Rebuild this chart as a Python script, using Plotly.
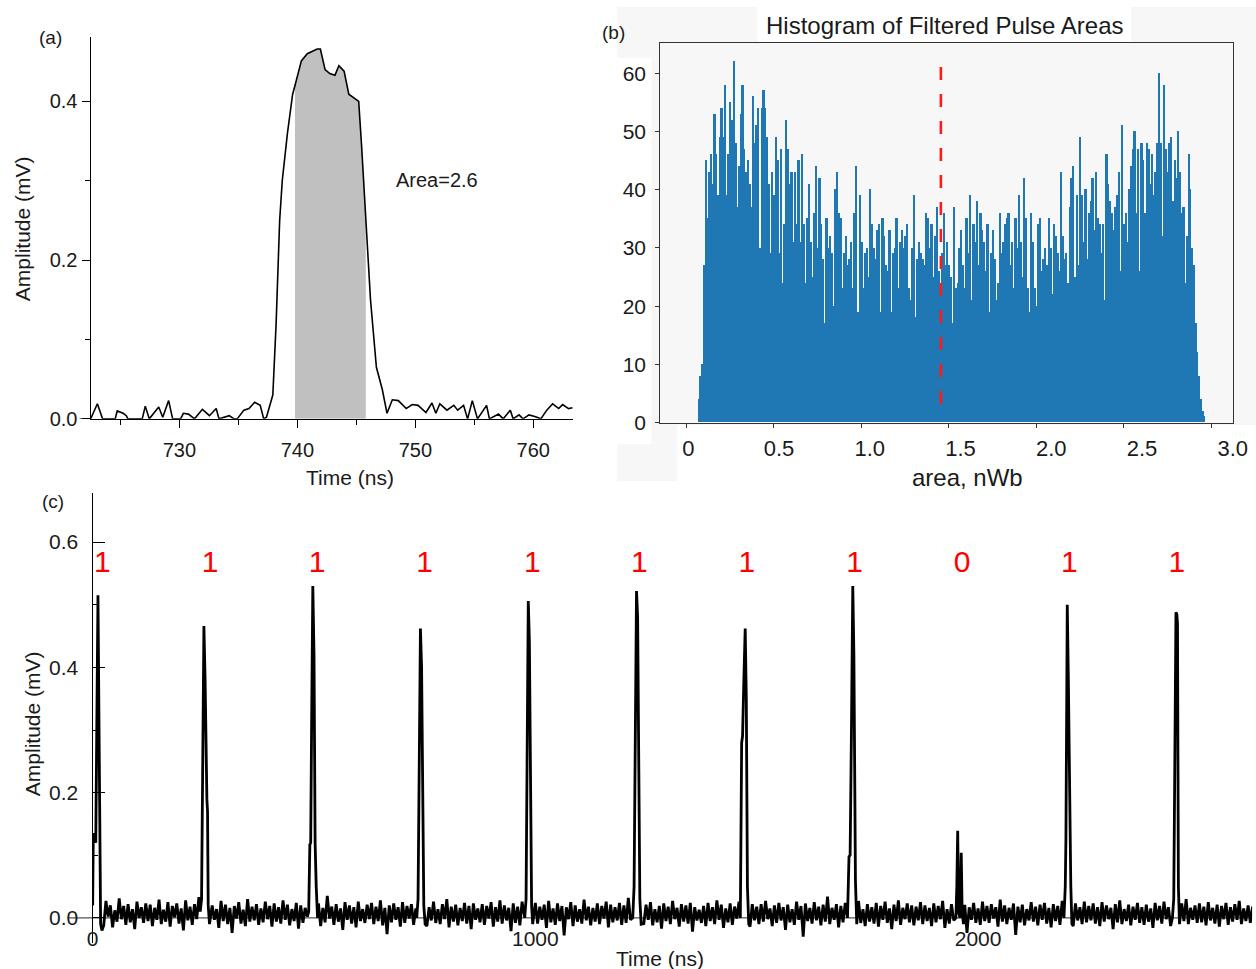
import plotly.graph_objects as go

W, H = 1256, 969          # reference pixel frame used for placement (paper fractions)
FIG_W, FIG_H = 1273, 982  # page size (capture is downscaled to 1256x969)
X_SHIFT, X_SCALE = 5.3, 0.9973  # compensation measured from a previous capture
FONT = "Liberation Sans, Arial, sans-serif"

# ---------------- (a) single pulse ----------------
a_time = [722.48, 723.05, 723.49, 724.56, 724.73, 725.23, 725.5, 725.64, 726.85, 727.11,
          727.45, 728.25, 728.59, 729.09, 729.43, 730.1, 730.34, 730.77, 731.28, 731.95,
          732.55, 733.12, 733.36, 734.23, 734.63, 734.9, 735.47, 735.9, 736.38, 736.85,
          737.15, 737.38, 737.92, 738.2, 738.5, 738.72, 739.16, 739.6, 739.8, 740.34,
          740.84, 741.34, 741.68, 741.95, 742.35, 742.75, 743.19, 743.52, 743.96, 744.36,
          744.77, 745.2, 745.44, 745.8, 746.2, 746.7, 747.2, 747.6, 748.05, 748.56,
          749.23, 749.73, 750.23, 750.9, 751.41, 751.74, 752.08, 752.68, 753.26, 753.59,
          754.09, 754.43, 754.83, 755.27, 756.04, 756.28, 757.05, 757.45, 758.05, 758.29,
          758.79, 759.13, 759.63, 760.13, 760.64, 761.14, 761.64, 762.15, 762.48, 762.99,
          763.32]
a_amp = [0, 0.019, 0, 0, 0.01, 0.007, 0.004, 0, 0, 0.016,
         0, 0.015, 0.002, 0.023, 0, 0, 0.007, 0.006, 0, 0.012,
         0.004, 0.013, 0, 0.004, 0, 0, 0.011, 0.013, 0.021, 0.017,
         0, 0.002, 0.03, 0.12, 0.25, 0.30, 0.36, 0.409, 0.42, 0.451,
         0.46, 0.464, 0.466, 0.466, 0.44, 0.435, 0.433, 0.445, 0.438, 0.409,
         0.405, 0.40, 0.345, 0.25, 0.15, 0.065, 0.037, 0.007, 0.024, 0.023,
         0.013, 0.018, 0.017, 0.008, 0.02, 0.007, 0.019, 0.011, 0.017, 0.011,
         0.017, 0, 0.023, 0, 0.017, 0, 0.006, 0, 0.011, 0,
         0.005, 0, 0.005, 0.003, 0, 0.011, 0.019, 0.013, 0.018, 0.013,
         0.014]
area_window = [739.8, 745.8]
area_text = "Area=2.6"

# ---------------- (b) histogram ----------------
hist_start = 0.07
hist_bin_width = 0.01
hist_counts = [
    4, 8, 10, 27, 45, 35, 43, 46, 41, 53,
    46, 39, 49, 54, 49, 58, 39, 46, 55, 52,
    62, 48, 37, 44, 53, 58, 47, 43, 45, 41,
    37, 56, 48, 51, 54, 30, 54, 57, 54, 49,
    41, 29, 43, 39, 49, 45, 29, 47, 24, 34,
    52, 47, 41, 43, 31, 43, 34, 45, 31, 46,
    34, 24, 35, 41, 31, 25, 36, 44, 30, 42,
    34, 28, 17, 35, 30, 32, 29, 20, 40, 43,
    36, 35, 23, 29, 32, 27, 28, 31, 23, 36,
    44, 19, 39, 31, 23, 29, 30, 25, 40, 34,
    30, 28, 33, 34, 19, 35, 32, 27, 26, 33,
    19, 29, 30, 35, 23, 31, 33, 30, 32, 34,
    23, 21, 30, 39, 18, 28, 31, 29, 28, 27,
    36, 35, 30, 34, 25, 32, 37, 26, 23, 29,
    36, 27, 31, 27, 25, 17, 37, 23, 24, 30,
    33, 27, 23, 35, 29, 39, 21, 34, 31, 38,
    27, 36, 33, 31, 26, 34, 19, 29, 33, 28,
    21, 24, 36, 29, 31, 34, 35, 36, 27, 31,
    23, 35, 30, 39, 31, 25, 42, 35, 23, 19,
    36, 31, 23, 20, 34, 35, 26, 28, 30, 27,
    35, 30, 22, 34, 32, 29, 26, 43, 32, 28,
    29, 24, 37, 42, 44, 25, 39, 27, 49, 39,
    31, 40, 28, 36, 38, 42, 33, 43, 35, 34,
    29, 34, 21, 46, 41, 38, 36, 33, 37, 39,
    43, 26, 51, 34, 36, 31, 40, 44, 47, 50,
    36, 47, 26, 48, 45, 36, 48, 47, 41, 46,
    39, 43, 48, 60, 48, 32, 58, 47, 43, 48,
    49, 38, 45, 42, 50, 43, 36, 37, 24, 32,
    46, 40, 30, 27, 17, 12, 8, 4, 2, 1,
]
threshold = 1.455
threshold_span = [61.1, 1.8]
hist_tick_vals = [0, 0.5, 1.0, 1.5, 2.0, 2.5, 3.0]
hist_tick_text = ["0", "0.5", "1.0", "1.5", "2.0", "2.5", "3.0"]

# ---------------- (c) pulse train ----------------
noise_step_ns = 5
noise_milli = [
    18, -9, 24, -4, 15, -12, 27, 2, 20, -15, 12, -6, 31, -2, 19, -11, 22, -7, 14, -18, 26, 0, 17, -8, 23,
    -5, 21, -13, 16, -3, 29, -10, 13, -6, 25, -14, 19, 1, 23, -9, 15, -20, 28, -4, 18, -11, 22, -2, 33, -7,
    17, -12, 24, -8, 20, -3, 14, -16, 27, -5, 21, -10, 16, -24, 19, -1, 25, -9, 13, -13, 30, -6, 18, -4, 22,
    -11, 15, -7, 26, -2, 19, -14, 23, -6, 17, -9, 28, -3, 21, -12, 14, -5, 24, -17, 20, -8, 16, 2, 27, -10,
    19, -4, 23, -13, 16, -7, 35, -1, 18, -11, 22, -6, 15, -19, 25, -3, 20, -9, 17, -15, 26, -5, 14, -8, 21,
    -2, 24, -10, 18, -5, 28, -12, 16, -26, 20, -7, 23, -3, 17, -14, 25, -8, 19, -1, 22, -11, 15, -6, 27, -9,
    20, -13, 17, -4, 26, -8, 14, -10, 22, -2, 30, -15, 18, -6, 21, -12, 16, -5, 24, -9, 19, -18, 23, -3, 15,
    -7, 22, -11, 19, -1, 25, -14, 17, -6, 28, -9, 20, -4, 16, -21, 23, -8, 18, -12, 26, -3, 21, -10, 14, -5,
    24, -9, 18, -3, 21, -16, 27, -7, 15, -11, 23, -5, 19, -28, 17, -2, 25, -13, 20, -6, 14, -9, 29, -4, 18,
    -12, 16, -6, 23, -10, 19, -1, 26, -15, 21, -7, 17, -4, 24, -11, 20, -8, 32, -3, 15, -13, 22, -5, 18, -9,
    21, -3, 25, -12, 14, -7, 19, -17, 23, -5, 18, -10, 27, -2, 16, -14, 22, -6, 20, -9, 24, -22, 17, -4, 13,
    -8, 19, -13, 24, -5, 17, -10, 28, -3, 21, -16, 15, -7, 23, -11, 18, -1, 26, -9, 20, -6, 16, -14, 22, -4,
    18, -10, 22, -6, 27, -2, 15, -13, 20, -8, 24, -4, 17, -19, 21, -7, 14, -11, 26, -3, 19, -30, 23, -5, 16,
    -9, 25, -4, 18, -12, 21, -6, 34, -10, 16, -3, 22, -15, 19, -7, 24, -1, 17, -11, 20, -5, 27, -8, 14, -13,
    22, -6, 17, -9, 24, -14, 19, -3, 26, -8, 15, -18, 21, -5, 28, -11, 16, -2, 23, -7, 20, -12, 18, -4, 25,
    -10, 20, -5, 16, -13, 23, -7, 19, -2, 27, -16, 14, -9, 22, -4, 18, -12, 25, -6, 21, -24, 17, -3, 24, -8,
    15, -11, 26, -5, 19, -8, 22, -1, 17, -14, 29, -6, 20, -10, 16, -3, 23, -27, 18, -7, 21, -12, 14, -4, 25,
    -6, 18, -12, 21, -3, 24, -9, 16, -15, 22, -5, 19, -11, 27, -2, 15, -8, 20, -13, 23, -4, 17, -10, 26, -7,
    19, -4, 23, -9, 17, -13, 25, -6, 20, -2, 16, -18, 22, -7, 28, -10, 14, -5, 21, -12, 18, -3, 24, -8, 17,
    -11, 21, -6, 15, -16, 24, -4, 19, -9, 26, -2, 17, -13, 22, -7, 18, -20, 23, -5, 30, -10, 16, -3, 20, -8,
    23, -7, 18, -12, 25, -4, 16, -9, 21, -14, 19, -2, 24, -11, 17, -6, 22, -3, 27, -10, 15, -5, 20, -8, 18,
]
pulse_times = [
    [0, 1.5, 5, 7, 12, 14.3, 15.8, 18, 21],
    [243, 246, 248.5, 251.3, 254, 256.5, 258, 259.5, 261, 264],
    [488, 490.6, 492.5, 494.5, 497.3, 500, 502.5, 505, 508],
    [732, 735, 737.5, 740.4, 743, 745.5, 748, 751],
    [976, 979, 981.5, 984, 986.5, 989, 991.5, 994],
    [1220, 1223, 1225.5, 1228.5, 1231, 1233.5, 1236, 1239],
    [1463, 1466, 1468, 1471, 1474, 1476.5, 1479, 1482],
    [1705, 1708.5, 1711, 1714, 1717, 1719.5, 1721.5, 1723, 1726],
    [1950, 1952, 1954, 1956, 1959, 1962, 1964, 1967],
    [2194, 2197, 2198.5, 2201.5, 2204, 2206.5, 2208, 2209.5, 2212],
    [2439, 2442, 2445, 2447, 2449, 2450.5, 2452.5, 2455],
]
pulse_amps = [
    [0.02, 0.135, 0.13, 0.12, 0.515, 0.3, 0.12, -0.01, -0.02],
    [0.01, 0.03, 0.25, 0.466, 0.38, 0.19, 0.19, 0.17, 0.02, -0.01],
    [0.01, 0.117, 0.12, 0.3, 0.53, 0.42, 0.12, 0.05, 0.0],
    [0.0, 0.03, 0.25, 0.462, 0.4, 0.15, 0.02, -0.01],
    [0.0, 0.03, 0.28, 0.506, 0.44, 0.15, 0.02, -0.01],
    [0.0, 0.05, 0.3, 0.522, 0.48, 0.2, 0.03, -0.01],
    [0.0, 0.28, 0.29, 0.38, 0.462, 0.35, 0.05, -0.01],
    [0.0, 0.098, 0.1, 0.3, 0.53, 0.42, 0.066, 0.06, -0.01],
    [0.0, 0.05, 0.139, 0.01, 0.0, 0.104, 0.01, -0.01],
    [0.0, 0.05, 0.127, 0.50, 0.38, 0.188, 0.18, 0.05, -0.01],
    [0.0, 0.03, 0.3, 0.488, 0.485, 0.47, 0.05, -0.01],
]
bits = ["1", "1", "1", "1", "1", "1", "1", "1", "0", "1", "1"]
bit_label_times = [22, 265, 507, 750, 993, 1235, 1478, 1721, 1964, 2206, 2449]
bit_label_level = 0.565

# ---------------- build series ----------------
fill_t = [t for t in a_time if area_window[0] <= t <= area_window[1]]
fill_a = [a for t, a in zip(a_time, a_amp) if area_window[0] <= t <= area_window[1]]

hist_centers = [hist_start + hist_bin_width * (i + 0.5) for i in range(len(hist_counts))]

windows = [(min(ts) - 1.5, max(ts) + 1.5) for ts in pulse_times]
pts = []
for i, v in enumerate(noise_milli):
    t = i * noise_step_ns
    if not any(lo <= t <= hi for lo, hi in windows):
        pts.append((t, v / 1000.0))
for ts, amps in zip(pulse_times, pulse_amps):
    pts.extend(zip(ts, amps))
pts.sort()
c_t = [p[0] for p in pts]
c_a = [p[1] for p in pts]


def fx(p):
    return min(1.0, max(0.0, (p - X_SHIFT) / X_SCALE / W))


def fy(p):
    return 1 - p / H


fig = go.Figure()
# (a)
fig.add_trace(go.Scatter(x=fill_t, y=fill_a, xaxis="x", yaxis="y", mode="lines",
                         line=dict(width=0, color="#c0c0c0"), fill="tozeroy",
                         fillcolor="#c0c0c0", hoverinfo="skip"))
fig.add_trace(go.Scatter(x=a_time, y=a_amp, xaxis="x", yaxis="y", mode="lines",
                         line=dict(color="black", width=1.6)))
# (b)
fig.add_trace(go.Bar(x=hist_centers, y=hist_counts, width=hist_bin_width,
                     marker=dict(color="#1f77b4", line=dict(width=0)),
                     xaxis="x2", yaxis="y2"))
fig.add_trace(go.Scatter(x=[threshold, threshold], y=threshold_span, xaxis="x2", yaxis="y2",
                         mode="lines", line=dict(color="#ff1a1a", width=2.6, dash="13px,14px")))
fig.add_trace(go.Scatter(x=[None], y=[None], xaxis="x4", yaxis="y2", mode="markers",
                         hoverinfo="skip"))
# (c)
fig.add_trace(go.Scatter(x=c_t, y=c_a, xaxis="x3", yaxis="y3", mode="lines",
                         line=dict(color="black", width=2.8)))
fig.add_trace(go.Scatter(x=bit_label_times, y=[bit_label_level] * len(bits), text=bits,
                         mode="text", textfont=dict(size=30, color="#ff0000", family=FONT),
                         xaxis="x3", yaxis="y3"))

axis_common = dict(showgrid=False, zeroline=False)

fig.update_layout(
    width=FIG_W, height=FIG_H, autosize=False,
    margin=dict(l=0, r=0, t=0, b=0, pad=0),
    paper_bgcolor="white", plot_bgcolor="rgba(0,0,0,0)",
    showlegend=False, bargap=0,
    font=dict(family=FONT, color="#1a1a1a"),
    xaxis=dict(domain=[fx(90), fx(573)], range=[722.48, 763.4], anchor="y",
               showline=True, linecolor="black", linewidth=1.3,
               ticks="outside", ticklen=8, tickwidth=1.3, tickcolor="black",
               tickvals=[730, 740, 750, 760],
               minor=dict(tickvals=[725, 735, 745, 755], ticks="outside", ticklen=5,
                          tickwidth=1.2, tickcolor="black"),
               tickfont=dict(size=20), ticklabelstandoff=5, **axis_common),
    yaxis=dict(domain=[fy(418), fy(37)], range=[0, 0.481], anchor="x",
               showline=True, linecolor="black", linewidth=1.3,
               ticks="outside", ticklen=8, tickwidth=1.3, tickcolor="black",
               tickvals=[0, 0.2, 0.4], ticktext=["0.0", "0.2", "0.4"],
               minor=dict(tickvals=[0.1, 0.3], ticks="outside", ticklen=5,
                          tickwidth=1.2, tickcolor="black"),
               tickfont=dict(size=20), **axis_common),
    xaxis2=dict(domain=[fx(660), fx(1233)], range=[-0.1486, 3.1257], anchor="y2",
                showline=True, mirror=True, linecolor="#333333", linewidth=1.3,
                ticks="outside", ticklen=4, tickwidth=1.2, tickcolor="#333333",
                tickvals=hist_tick_vals, showticklabels=False, **axis_common),
    xaxis4=dict(domain=[fx(660), fx(1233)], range=[-0.154, 3.002], anchor="y2",
                overlaying="x2", showline=False, ticks="",
                tickvals=hist_tick_vals, ticktext=hist_tick_text,
                tickfont=dict(size=22), ticklabelstandoff=10, **axis_common),
    yaxis2=dict(domain=[fy(421.7), fy(43.3)], range=[0, 65.15], anchor="x2",
                showline=True, mirror=True, linecolor="#333333", linewidth=1.3,
                ticks="outside", ticklen=4, tickwidth=1.2, tickcolor="#333333",
                tickvals=[0, 10, 20, 30, 40, 50, 60],
                tickfont=dict(size=21), ticklabelstandoff=5, **axis_common),
    xaxis3=dict(domain=[fx(92), fx(1252)], range=[0, 2619], anchor="free",
                position=fy(922), showline=False, ticks="",
                tickvals=[0, 1000, 2000], tickfont=dict(size=21), **axis_common),
    yaxis3=dict(domain=[fy(941), fy(492)], range=[-0.04, 0.6784], anchor="x3",
                showline=True, linecolor="black", linewidth=1.3,
                ticks="inside", ticklen=12, tickwidth=1.3, tickcolor="black",
                tickvals=[0, 0.2, 0.4, 0.6], ticktext=["0.0", "0.2", "0.4", "0.6"],
                minor=dict(tickvals=[0.1, 0.3, 0.5], ticks="inside", ticklen=5,
                           tickwidth=1.2, tickcolor="black"),
                tickfont=dict(size=21), ticklabelstandoff=9, **axis_common),
)

shapes = [
    dict(type="rect", xref="paper", yref="paper", x0=fx(617), x1=1, y0=fy(480), y1=fy(7),
         fillcolor="#f7f7f7", line=dict(width=0), layer="below"),
    dict(type="rect", xref="paper", yref="paper", x0=fx(757), x1=fx(1131), y0=fy(43), y1=1,
         fillcolor="white", line=dict(width=0), layer="below"),
    dict(type="rect", xref="paper", yref="paper", x0=fx(617), x1=fx(651), y0=fy(443), y1=fy(58),
         fillcolor="white", line=dict(width=0), layer="below"),
    dict(type="rect", xref="paper", yref="paper", x0=fx(677), x1=1, y0=fy(480), y1=fy(424),
         fillcolor="white", line=dict(width=0), layer="below"),
    dict(type="line", xref="paper", yref="y", x0=fx(79), x1=fx(90), y0=0, y1=0,
         line=dict(color="black", width=1.3)),
    dict(type="line", xref="paper", yref="y3", x0=fx(67), x1=fx(1252), y0=0, y1=0,
         line=dict(color="#555555", width=1.3), layer="below"),
]
fig.update_layout(shapes=shapes)


def ann(text, x, y, size, **kw):
    d = dict(text=text, x=x, y=y, xref=kw.pop("xref", "paper"), yref=kw.pop("yref", "paper"),
             showarrow=False, font=dict(size=size, family=FONT, color="#1a1a1a"),
             xanchor="center", yanchor="middle")
    d.update(kw)
    return d


annotations = [
    ann("(a)", fx(50), fy(37), 19),
    ann("(b)", fx(613), fy(32), 19),
    ann("(c)", fx(52), fy(500), 19),
    ann("Amplitude (mV)", fx(22), fy(228), 21, textangle=-90),
    ann("Time (ns)", fx(349), fy(477), 21),
    ann(area_text, 751.8, 0.301, 20, xref="x", yref="y"),
    ann("Histogram of Filtered Pulse Areas", fx(944), fy(25), 24),
    ann("area, nWb", fx(967), fy(477), 24),
    ann("Amplitude (mV)", fx(32), fy(722), 21, textangle=-90),
    ann("Time (ns)", fx(660), fy(957), 21),
]
fig.update_layout(annotations=annotations)

post = (
    "document.documentElement.style.margin='0';"
    "document.body.style.margin='0';"
    "document.body.style.overflow='hidden';"
    "document.documentElement.style.overflow='hidden';"
)
fig.write_html("out.html", config={"displayModeBar": False}, post_script=post)
